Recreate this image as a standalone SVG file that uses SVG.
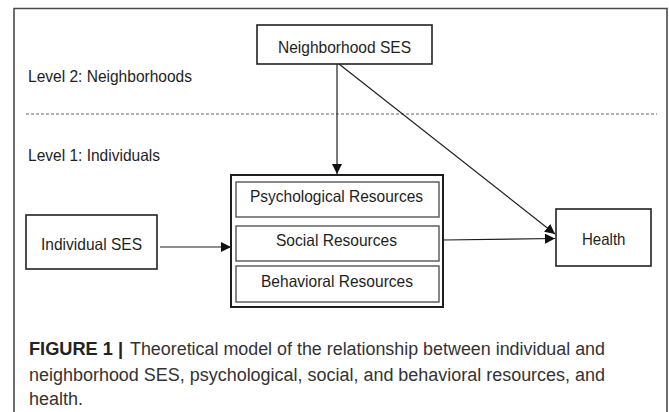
<svg xmlns="http://www.w3.org/2000/svg" width="669" height="412" viewBox="0 0 669 412">
  <style>
    .bg { fill: #ffffff; }
    .frame { fill: none; stroke: #4a4a4a; stroke-width: 1.6; }
    .box { fill: #ffffff; stroke: #222222; stroke-width: 1.6; }
    .outer { fill: #ffffff; stroke: #1e1e1e; stroke-width: 2; }
    .inner { fill: #ffffff; stroke: #555555; stroke-width: 1.4; }
    .lbl { font-family: "Liberation Sans", Arial, sans-serif; font-size: 16.5px; fill: #1e1e1e; }
    .mid { text-anchor: middle; }
    .edge { fill: none; stroke: #1e1e1e; stroke-width: 1.2; }
    .divider { stroke: #666666; stroke-width: 1; stroke-dasharray: 3 2; }
    .cap { font-family: "Liberation Sans", Arial, sans-serif; font-size: 18px; fill: #333333; }
    .capb { font-family: "Liberation Sans", Arial, sans-serif; font-size: 18px; font-weight: bold; fill: #222222; }
  </style>
  <defs>
    <marker id="arrow" viewBox="0 0 10 10" refX="10" refY="5" markerWidth="10" markerHeight="10" markerUnits="userSpaceOnUse" orient="auto">
      <path d="M0,0 L10,5 L0,10 Z" fill="#111111"/>
    </marker>
  </defs>

  <rect class="bg" x="0" y="0" width="669" height="412"/>

  <!-- figure frame (open at the bottom) -->
  <path class="frame" d="M14,412 L14,8.5 L667,8.5 L667,412"/>

  <!-- level separator and level labels -->
  <line class="divider" x1="26" y1="114" x2="657" y2="114"/>
  <text class="lbl" x="28" y="81.5" textLength="164" lengthAdjust="spacingAndGlyphs">Level 2: Neighborhoods</text>
  <text class="lbl" x="28" y="160.5" textLength="132" lengthAdjust="spacingAndGlyphs">Level 1: Individuals</text>

  <!-- connectors -->
  <g id="connectors">
    <line class="edge" x1="337" y1="64" x2="337" y2="174" marker-end="url(#arrow)"/>
    <line class="edge" x1="339" y1="64" x2="555" y2="234" marker-end="url(#arrow)"/>
    <line class="edge" x1="160" y1="247" x2="231" y2="247" marker-end="url(#arrow)"/>
    <line class="edge" x1="443" y1="240" x2="555" y2="238.5" marker-end="url(#arrow)"/>
  </g>

  <g id="neighborhood-ses">
    <rect class="box" x="257" y="25" width="175" height="39"/>
    <text class="lbl" x="278" y="52.5" textLength="133" lengthAdjust="spacingAndGlyphs">Neighborhood SES</text>
  </g>

  <g id="individual-ses">
    <rect class="box" x="26" y="215" width="131" height="54"/>
    <text class="lbl" x="41" y="249.5" textLength="101" lengthAdjust="spacingAndGlyphs">Individual SES</text>
  </g>

  <g id="resources">
    <rect class="outer" x="231" y="175" width="212" height="132"/>
    <g id="psychological-resources">
      <rect class="inner" x="236" y="182" width="203" height="35"/>
      <text class="lbl" x="250" y="202" textLength="173" lengthAdjust="spacingAndGlyphs">Psychological Resources</text>
    </g>
    <g id="social-resources">
      <rect class="inner" x="236" y="226" width="203" height="35"/>
      <text class="lbl" x="276" y="246" textLength="121" lengthAdjust="spacingAndGlyphs">Social Resources</text>
    </g>
    <g id="behavioral-resources">
      <rect class="inner" x="236" y="266" width="203" height="36"/>
      <text class="lbl" x="261" y="286.5" textLength="152" lengthAdjust="spacingAndGlyphs">Behavioral Resources</text>
    </g>
  </g>

  <g id="health">
    <rect class="box" x="556" y="209" width="95" height="57"/>
    <text class="lbl" x="582" y="244.5" textLength="43.5" lengthAdjust="spacingAndGlyphs">Health</text>
  </g>

  <!-- caption -->
  <text class="capb" x="29" y="355" textLength="94" lengthAdjust="spacingAndGlyphs">FIGURE 1 |</text>
  <text class="cap" x="130" y="355" textLength="475" lengthAdjust="spacingAndGlyphs">Theoretical model of the relationship between individual and</text>
  <text class="cap" x="29" y="380.5" textLength="576" lengthAdjust="spacingAndGlyphs">neighborhood SES, psychological, social, and behavioral resources, and</text>
  <text class="cap" x="29" y="405">health.</text>
</svg>
